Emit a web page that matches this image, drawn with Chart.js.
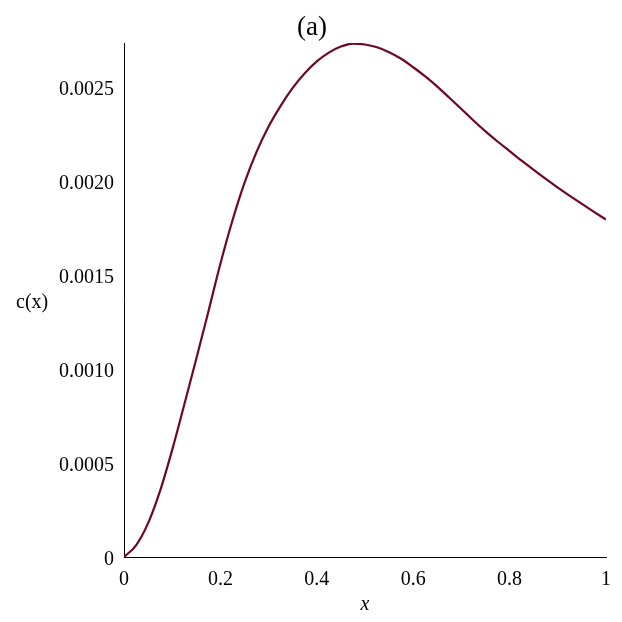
<!DOCTYPE html>
<html lang="en">
<head>
    <meta charset="UTF-8">
    <title>c(x)</title>
    <script src="https://cdn.jsdelivr.net/npm/chart.js"></script>
    <style>
        html, body {
            margin: 0;
            padding: 0;
            background: #fff;
        }
        .wrap {
            width: 622px;
            height: 622px;
            position: relative;
        }
    </style>
</head>
<body>
    <div class="wrap"><canvas id="plot"></canvas></div>

    <script>
        // values (c in units of 1e-5)
        const xs = [0, 0.025, 0.05, 0.075, 0.1, 0.125, 0.15, 0.175, 0.2, 0.225,
                    0.25, 0.275, 0.3, 0.325, 0.35, 0.375, 0.4, 0.425, 0.45, 0.475,
                    0.5, 0.525, 0.55, 0.575, 0.6, 0.625, 0.65, 0.675, 0.7, 0.725,
                    0.75, 0.775, 0.8, 0.825, 0.85, 0.875, 0.9, 0.925, 0.95, 0.975, 1];
        const c5 = [0, 6.2, 18, 35.3, 57, 81, 105.5, 130.5, 156, 179,
                    199, 215.5, 229, 240, 249.5, 257.3, 263.6, 268.3, 271.5, 273.1,
                    272.6, 271.1, 268.5, 265.0, 260.5, 255.6, 250.2, 244.3, 238.3, 232.2,
                    226.4, 221.0, 215.9, 210.8, 205.9, 201.1, 196.5, 192.1, 187.8, 183.6, 179.5];
        const xTicks = [0, 0.2, 0.4, 0.6, 0.8, 1];
        const yTicks = [0, 0.0005, 0.0010, 0.0015, 0.0020, 0.0025];
        const yTop = 0.002734;

        const serif = "'Liberation Serif', 'DejaVu Serif', serif";

        // "(a)" and the horizontal y label
        const labels = {
            id: 'labels',
            afterDraw(chart) {
                const ctx = chart.ctx;
                ctx.save();
                ctx.fillStyle = '#000';
                ctx.textBaseline = 'middle';
                ctx.textAlign = 'center';
                ctx.font = '27px ' + serif;
                ctx.fillText('(a)', 312, 28);
                ctx.textAlign = 'left';
                ctx.font = '20px ' + serif;
                ctx.fillText('c(x)', 16, 303);
                ctx.restore();
            }
        };

        new Chart(document.getElementById('plot'), {
            type: 'line',
            data: {
                datasets: [{
                    data: xs.map((x, i) => ({ x: x, y: c5[i] * 1e-5 })),
                    borderColor: '#6e0820',
                    borderWidth: 2.2,
                    pointRadius: 0,
                    cubicInterpolationMode: 'monotone',
                    fill: false
                }]
            },
            options: {
                responsive: true,
                maintainAspectRatio: false,
                animation: false,
                layout: { padding: { left: 0, right: 14, top: 43, bottom: 0 } },
                plugins: {
                    legend: { display: false },
                    tooltip: { enabled: false },
                    title: { display: false }
                },
                scales: {
                    x: {
                        type: 'linear',
                        min: 0,
                        max: 1,
                        afterBuildTicks: s => { s.ticks = xTicks.map(v => ({ value: v })); },
                        afterFit: s => { s.height = 65; },
                        grid: { display: false, drawTicks: false },
                        border: { display: true, color: '#000', width: 1 },
                        ticks: {
                            color: '#000',
                            padding: 11,
                            maxRotation: 0,
                            font: { family: serif, size: 20 },
                            callback: v => String(v)
                        },
                        title: {
                            display: true,
                            text: 'x',
                            color: '#000',
                            font: { family: serif, size: 20, style: 'italic' },
                            padding: { top: 0, bottom: 5 }
                        }
                    },
                    y: {
                        type: 'linear',
                        min: 0,
                        max: yTop,
                        afterBuildTicks: s => { s.ticks = yTicks.map(v => ({ value: v })); },
                        afterFit: s => { s.width = 124; },
                        grid: { display: false, drawTicks: false },
                        border: { display: true, color: '#000', width: 1 },
                        ticks: {
                            color: '#000',
                            padding: 10,
                            labelOffset: 2.5,
                            font: { family: serif, size: 20 },
                            callback: v => v === 0 ? '0' : v.toFixed(4)
                        }
                    }
                }
            },
            plugins: [labels]
        });
    </script>
</body>
</html>
